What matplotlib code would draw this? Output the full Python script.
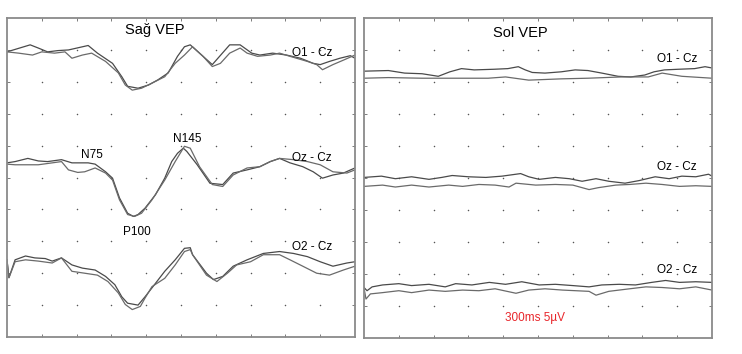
import numpy as np
import matplotlib
matplotlib.use('Agg')
import matplotlib.pyplot as plt

plt.rcParams['font.family'] = ['Liberation Sans', 'DejaVu Sans']

# ── data: time (ms) and amplitude (µV, positive plotted downward) ──

# Sağ VEP (right eye)
sag_o1_t1 = [0, 20, 27, 35, 44, 53, 70, 78, 91, 99, 104, 113, 122, 130, 139, 147, 153, 158, 177,
             192, 201, 211, 218, 229, 241, 253, 264, 270, 278, 287, 296, 300]
sag_o1_v1 = [0, -1.1, -0.6, 0, -0.2, -0.3, -1.0, 0.2, 1.8, 3.9, 5.4, 5.7, 5.2, 4.4, 3.3, 0.7, -0.8,
             -1.1, 2.0, -1.1, -1.1, 0.2, 0.5, 0.2, 0.5, 1.0, 1.8, 2.0, 1.5, 1.0, 0.6, 1.0]
sag_o1_t2 = [0, 10, 22, 30, 41, 50, 56, 65, 73, 85, 96, 102, 108, 116, 125, 136, 145, 153, 160,
             169, 177, 184, 192, 201, 207, 216, 227, 235, 244, 259, 267, 272, 281, 290, 300]
sag_o1_v2 = [0, 0.2, 0.5, 0, 0.2, 0, 1.0, 0.5, 0.2, 1.5, 3.3, 5.2, 6.0, 5.7, 4.9, 3.9, 1.8, 0.5,
             -0.8, 0.7, 2.3, 1.8, 0.2, -0.6, 0.2, 0.7, 0.5, 0.2, 0.7, 1.5, 2.0, 2.8, 2.0, 1.3, 0.5]

sag_oz_t1 = [0, 7, 18, 27, 35, 47, 56, 70, 76, 85, 91, 97, 104, 109, 113, 119, 128, 136, 142,
             147, 152, 155, 164, 175, 186, 195, 207, 218, 227, 235, 244, 255, 264, 272, 281, 290, 300]
sag_oz_v1 = [0, -0.2, -0.7, -0.3, -0.2, -0.5, 0, 0, 0.2, 1.4, 2.4, 5.5, 7.9, 8.4, 8.1, 7.1, 5.0,
             2.4, -0.2, -1.5, -2.3, -1.8, 0.3, 3.2, 3.4, 1.6, 1.1, 0.6, -0.2, -0.7, 0, 0.6, 1.4,
             2.4, 1.9, 1.6, 0.8]
sag_oz_t2 = [0, 7, 27, 47, 53, 61, 67, 76, 85, 91, 97, 104, 110, 116, 125, 136, 145, 153, 158,
             166, 177, 186, 195, 207, 218, 227, 235, 247, 259, 270, 281, 293, 300]
sag_oz_v2 = [0.2, 0.3, 0.3, -0.2, 1.1, 1.5, 1.4, 0.8, 1.6, 2.7, 5.8, 8.1, 8.4, 7.9, 5.8, 2.7,
             -0.2, -2.6, -2.3, 0.6, 3.4, 3.7, 1.9, 0.8, 0.6, -0.2, -0.7, -0.5, -0.2, 0.3, 1.4,
             1.6, 1.1]

sag_o2_t1 = [0, 1.7, 7, 16, 24, 33, 39, 47, 56, 65, 76, 85, 93, 99, 104, 113, 119, 125, 136,
             145, 153, 158, 160, 172, 178, 186, 195, 207, 221, 235, 247, 259, 270, 281, 293, 300]
sag_o2_v1 = [0, 2.8, 0, -0.6, -0.3, -0.2, 0.2, -0.3, 0.8, 1.3, 1.6, 2.6, 3.9, 5.8, 6.8, 7.1,
             5.8, 4.4, 1.8, 0, -1.8, -1.9, -0.8, 2.1, 3.1, 2.6, 1.0, 0, -1.0, -1.3, -1.0, -0.5,
             0.3, 1.0, 0.5, 0.3]
sag_o2_t2 = [0, 1.7, 7, 16, 27, 39, 47, 56, 67, 78, 87, 96, 102, 108, 115, 119, 125, 136, 145,
             153, 158, 160, 172, 181, 190, 198, 210, 221, 235, 244, 255, 267, 278, 290, 300]
sag_o2_v2 = [0, 2.8, 0.3, 0, 0.2, 0.5, -0.3, 1.8, 2.1, 2.4, 3.4, 5.2, 7.0, 7.8, 7.3, 6.0, 4.2,
             2.9, 0.8, -1.3, -1.6, -0.8, 2.4, 3.4, 2.1, 0.8, 0.3, -0.8, -0.8, 0, 1.0, 2.1, 2.4,
             1.6, 1.0]

# Sol VEP (left eye)
sol_o1_t1 = [0, 21, 35, 50, 64, 74, 84, 95, 112, 124, 133, 139, 145, 156, 170, 182, 193, 205,
             219, 230, 242, 250, 259, 271, 285, 294, 300]
sol_o1_v1 = [-0.6, -0.7, -0.3, -0.2, 0.2, -0.5, -1.0, -0.8, -0.9, -1.0, -1.3, -0.8, -0.4, -0.3,
             -0.5, -0.8, -0.7, -0.3, 0.2, 0.3, 0, -0.5, -0.8, -0.9, -1.0, -1.3, -1.1]
sol_o1_t2 = [0, 21, 50, 78, 107, 122, 142, 170, 193, 222, 245, 257, 274, 300]
sol_o1_v2 = [0.5, 0.4, 0.5, 0.5, 0.5, 0.3, 0.8, 0.6, 0.5, 0.3, 0.3, -0.3, 0.2, 0.5]

sol_oz_t1 = [0, 15, 27, 41, 56, 67, 76, 90, 105, 119, 135, 142, 151, 165, 177, 188, 200, 211,
             225, 237, 251, 263, 274, 286, 297, 300]
sol_oz_v1 = [-0.6, -0.8, -0.4, -0.7, -0.3, -0.6, -0.9, -0.7, -0.6, -0.8, -1.2, -0.7, -0.3, -0.6,
             -0.4, 0, -0.4, 0, 0.3, -0.1, -0.7, -0.4, -0.8, -0.7, -1.1, -0.8]
sol_oz_t2 = [0, 16, 27, 41, 56, 73, 85, 99, 113, 125, 131, 148, 165, 180, 194, 202, 217, 229,
             243, 257, 272, 286, 300]
sol_oz_v2 = [0.8, 0.6, 0.9, 0.6, 0.9, 0.6, 0.8, 0.5, 0.6, 0.9, 0.3, 0.6, 0.5, 0.6, 1.3, 1.0, 0.6,
             0.5, 0.3, 0.5, 0.8, 0.7, 0.8]

sol_o2_t1 = [0, 2.6, 7, 16, 30, 41, 56, 70, 79, 93, 108, 122, 136, 151, 165, 180, 194, 205, 220,
             234, 248, 260, 272, 286, 300]
sol_o2_v1 = [-0.2, 0.3, -0.3, -0.6, -0.8, -0.5, -0.7, -0.3, -0.8, -0.6, -1.0, -0.7, -1.1, -0.6,
             -0.7, -0.5, -0.3, -0.6, -0.7, -0.6, -1.0, -1.3, -1.0, -1.1, -1.0]
sol_o2_t2 = [0, 1.7, 5.5, 16, 30, 41, 56, 70, 85, 99, 113, 131, 142, 156, 171, 194, 200, 211,
             229, 243, 257, 272, 286, 300]
sol_o2_v2 = [-0.1, 1.6, 0.8, 0.6, 0.3, 0.6, 0.2, 0.4, 0.2, 0.3, 0, 0.7, 0.2, 0, 0.2, 0.4, 1.0,
             0.4, 0, -0.3, -0.2, 0, -0.3, 0.2]

# channel baselines (µV below the top edge, 5 µV per division)
sag_offsets = [5.3, 22.7, 37.9]
sol_offsets = [8.9, 25.5, 42.3]
channels = ['O1 - Cz', 'Oz - Cz', 'O2 - Cz']

SWEEP = 300      # ms
SPAN = 50        # µV (10 div x 5 µV)
x_grid = np.arange(30, SWEEP, 30)
y_grid = np.arange(5, SPAN, 5)

TRACE = '#4a4a4a'
FRAME = '#8a8a8a'


def setup_panel(ax):
    ax.set_xlim(0, SWEEP)
    ax.set_ylim(SPAN, 0)
    ax.set_xticks(x_grid)
    ax.set_yticks(y_grid)
    ax.tick_params(direction='in', length=2, width=0.6, color='#666666',
                   top=True, right=True, labelbottom=False, labelleft=False)
    for sp in ax.spines.values():
        sp.set_color(FRAME)
        sp.set_linewidth(1.3)
    gx, gy = np.meshgrid(x_grid, y_grid)
    ax.scatter(gx.ravel(), gy.ravel(), s=1.2, color='#555555', linewidths=0, zorder=1)


fig = plt.figure(figsize=(7.42, 3.54), dpi=100)
ax_l = fig.add_axes([0.0094, 0.048, 0.469, 0.901])
ax_r = fig.add_axes([0.4906, 0.045, 0.469, 0.904])

sag_traces = [(sag_o1_t1, sag_o1_v1, sag_o1_t2, sag_o1_v2),
              (sag_oz_t1, sag_oz_v1, sag_oz_t2, sag_oz_v2),
              (sag_o2_t1, sag_o2_v1, sag_o2_t2, sag_o2_v2)]
sol_traces = [(sol_o1_t1, sol_o1_v1, sol_o1_t2, sol_o1_v2),
              (sol_oz_t1, sol_oz_v1, sol_oz_t2, sol_oz_v2),
              (sol_o2_t1, sol_o2_v1, sol_o2_t2, sol_o2_v2)]

for ax, traces, offsets in [(ax_l, sag_traces, sag_offsets), (ax_r, sol_traces, sol_offsets)]:
    setup_panel(ax)
    for (t1, v1, t2, v2), off in zip(traces, offsets):
        ax.plot(t1, off + np.array(v1), color=TRACE, lw=0.9, zorder=2)
        ax.plot(t2, off + np.array(v2), color='#6a6a6a', lw=0.9, zorder=2)

# channel labels
for y, ch in zip([5.5, 22.0, 35.9], channels):
    ax_l.text(263, y, ch, ha='center', va='center', fontsize=8.5, zorder=3)
for y, ch in zip([6.4, 23.3, 39.3], channels):
    ax_r.text(270, y, ch, ha='center', va='center', fontsize=8.5, zorder=3)

# peak labels
ax_l.text(73, 21.5, 'N75', ha='center', va='center', fontsize=8.5)
ax_l.text(155, 19.0, 'N145', ha='center', va='center', fontsize=8.5)
ax_l.text(112, 33.5, 'P100', ha='center', va='center', fontsize=8.5)

ax_l.text(127, 1.9, 'Sağ VEP', ha='center', va='center', fontsize=10.5)
ax_r.text(135, 2.35, 'Sol VEP', ha='center', va='center', fontsize=10.5)
ax_r.text(147, 46.9, '300ms 5µV', ha='center', va='center', fontsize=8.5, color='#e8262b')

fig.savefig('out.png', dpi=100)
